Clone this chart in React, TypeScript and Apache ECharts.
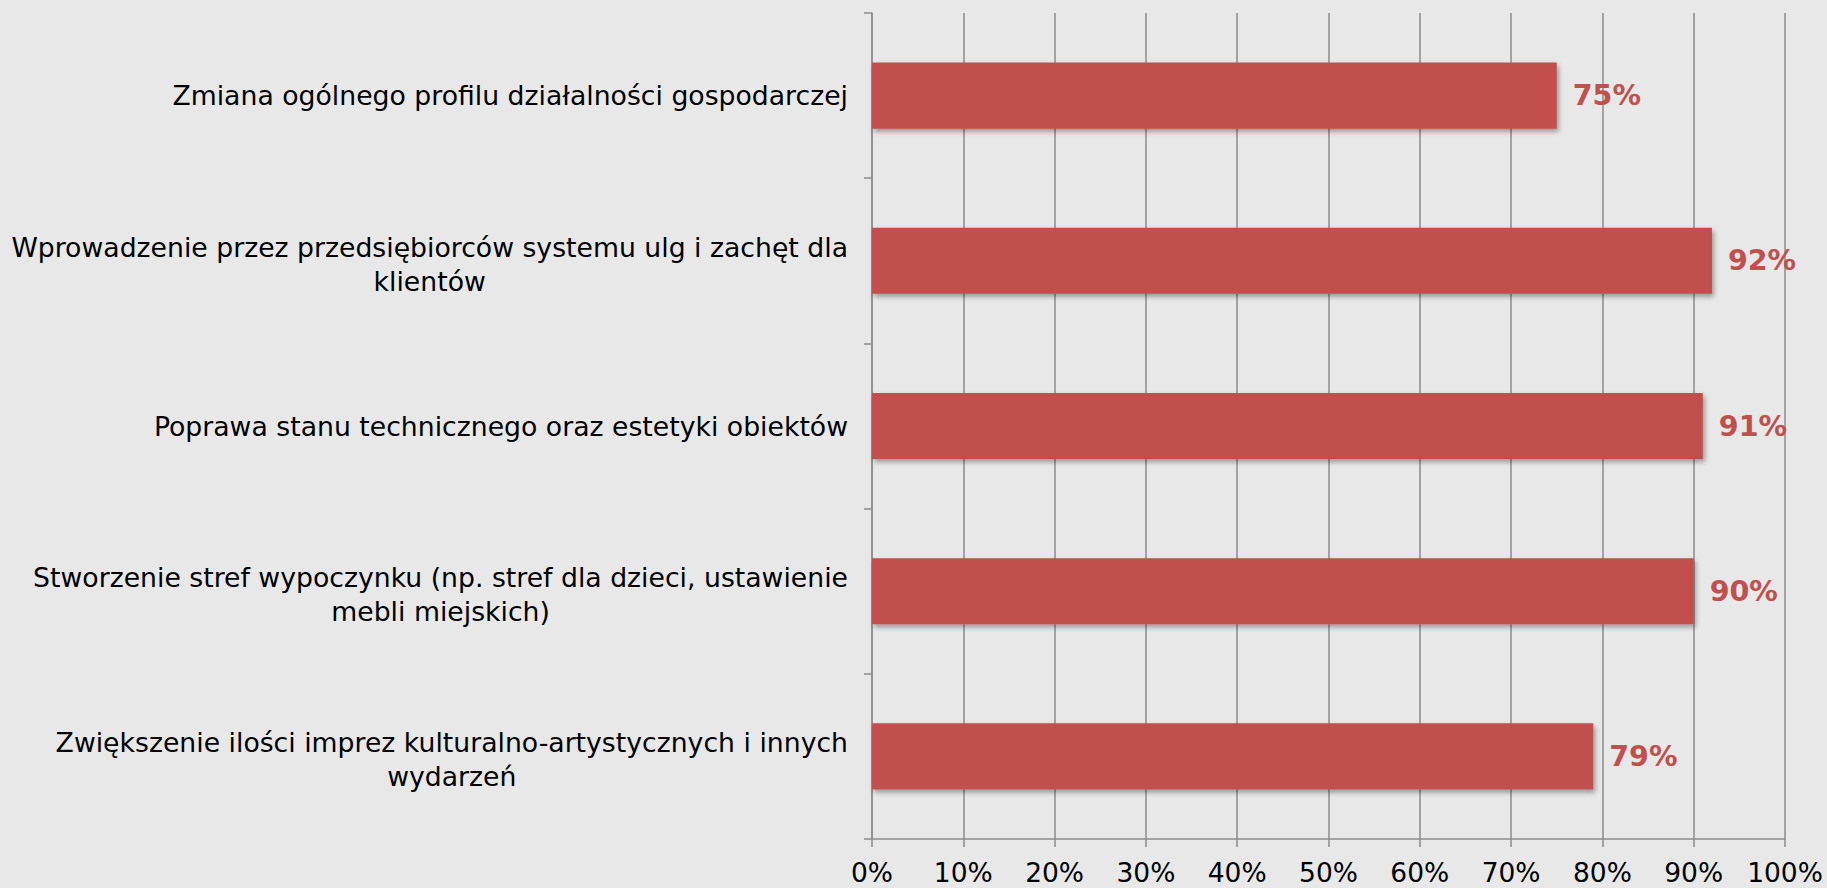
import React, { useEffect, useRef } from "react";
import * as echarts from "echarts";

const categories = [
  "Zmiana ogólnego profilu działalności gospodarczej",
  "Wprowadzenie przez przedsiębiorców systemu ulg i zachęt dla\nklientów",
  "Poprawa stanu technicznego oraz estetyki obiektów",
  "Stworzenie stref wypoczynku (np. stref dla dzieci, ustawienie\nmebli miejskich)",
  "Zwiększenie ilości imprez kulturalno-artystycznych i innych\nwydarzeń",
];
const values = [75, 92, 91, 90, 79];

const FONT = "'DejaVu Sans', Verdana, sans-serif";
const BAR = "#c0504d";
const GRIDC = "#8c8c8c";

export default function App() {
  const ref = useRef<HTMLDivElement>(null);
  useEffect(() => {
    const chart = echarts.init(ref.current!, null, { renderer: "svg" });
    chart.setOption({
      animation: false,
      backgroundColor: "#e8e8e8",
      textStyle: { fontFamily: FONT },
      grid: { left: 872, right: 42, top: 13, bottom: 49, containLabel: false },
      xAxis: {
        type: "value",
        min: 0,
        max: 100,
        interval: 10,
        axisLine: { show: true, lineStyle: { color: GRIDC, width: 1.5 } },
        axisTick: { show: true, length: 8, lineStyle: { color: GRIDC, width: 1.5 } },
        splitLine: { show: true, lineStyle: { color: GRIDC, width: 1.5 } },
        axisLabel: {
          formatter: "{value}%",
          color: "#000",
          fontSize: 26.5,
          fontFamily: FONT,
          margin: 20,
        },
      },
      yAxis: {
        type: "category",
        inverse: true,
        data: categories,
        axisLine: { show: true, lineStyle: { color: GRIDC, width: 1.5 } },
        axisTick: { show: true, length: 8, lineStyle: { color: GRIDC, width: 1.5 } },
        splitLine: { show: false },
        axisLabel: {
          color: "#000",
          fontSize: 26.7,
          fontFamily: FONT,
          margin: 24,
          lineHeight: 34,
          formatter: (v: string) => {
            const lines = v.split("\n");
            const body = lines.map((l) => `{c|${l}}`).join("\n");
            return lines.length > 1 ? `{s| }\n${body}` : body;
          },
          rich: {
            c: {
              align: "center",
              color: "#000",
              fontSize: 26.7,
              fontFamily: FONT,
              lineHeight: 34,
            },
            s: { fontSize: 4, lineHeight: 7 },
          },
        },
      },
      series: [
        {
          type: "bar",
          data: values,
          barWidth: "40%",
          itemStyle: {
            color: BAR,
            shadowColor: "rgba(0,0,0,0.35)",
            shadowBlur: 5,
            shadowOffsetX: 2,
            shadowOffsetY: 3,
          },
          label: {
            show: true,
            position: "right",
            distance: 16,
            formatter: "{c}%",
            color: BAR,
            fontWeight: "bold",
            fontSize: 28.5,
            fontFamily: FONT,
          },
        },
      ],
    });
    return () => chart.dispose();
  }, []);
  return (
    <div
      ref={ref}
      style={{ position: "absolute", left: 0, top: 0, width: 1827, height: 888 }}
    />
  );
}
